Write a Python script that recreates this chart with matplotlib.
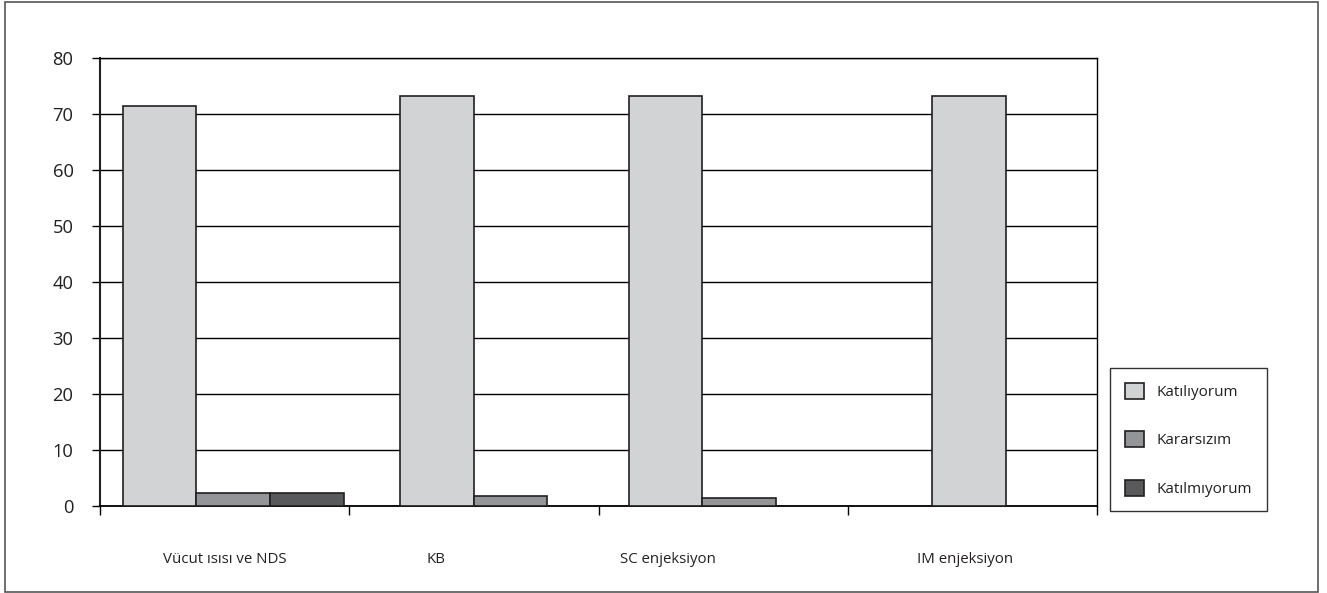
import matplotlib.pyplot as plt
from matplotlib.patches import Rectangle

plt.rcParams["font.family"] = ["Open Sans", "DejaVu Sans"]

categories = ["Vücut ısısı ve NDS", "KB", "SC enjeksiyon", "IM enjeksiyon"]
series_names = ["Katılıyorum", "Kararsızım", "Katılmıyorum"]
katiliyorum = [71.4, 73.3, 73.3, 73.3]
kararsizim = [2.4, 1.8, 1.5, 0]
katilmiyorum = [2.4, 0, 0, 0]

# layout: left edge of each group (in category units) and label centres
group_left = [0.092, 1.204, 2.122, 3.338]
label_x = [0.50, 1.35, 2.28, 3.47]
bar_w = 0.295
colors = ["#d1d3d4", "#939598", "#58595b"]
edge = "#231f20"

W, H = 1327, 593
fig = plt.figure(figsize=(W / 100, H / 100), dpi=100)
ax = fig.add_axes([100 / W, 1 - 506 / H, 997 / W, 448 / H])

handles = []
for i, (name, vals) in enumerate(zip(series_names, [katiliyorum, kararsizim, katilmiyorum])):
    for g, v in zip(group_left, vals):
        if v > 0:
            ax.bar(g + i * bar_w, v, width=bar_w, align="edge",
                   color=colors[i], edgecolor=edge, linewidth=1.2, zorder=3)
    handles.append(Rectangle((0, 0), 1, 1, facecolor=colors[i], edgecolor=edge, linewidth=1.2))

ax.set_xlim(0, 4)
ax.set_ylim(0, 80)
ax.set_yticks(range(0, 81, 10))
ax.yaxis.grid(True, color="black", linewidth=1.0, zorder=1)
ax.set_axisbelow(True)

ax.set_xticks([0, 1, 2, 3, 4])
ax.set_xticklabels([])
ax.set_xticks(label_x, minor=True)
ax.set_xticklabels(categories, minor=True, fontsize=10.8, color="#231f20")
ax.tick_params(axis="x", which="major", direction="out", length=6.5, width=1.0)
ax.tick_params(axis="x", which="minor", length=0, pad=33)
ax.tick_params(axis="y", direction="out", length=6, width=1.0, pad=13,
               labelsize=13.2, labelcolor="#231f20")

for side in ["top", "right"]:
    ax.spines[side].set_linewidth(1.0)
    ax.spines[side].set_color("black")
ax.spines["left"].set_linewidth(1.5)
ax.spines["left"].set_color("#231f20")
ax.spines["bottom"].set_linewidth(1.3)
ax.spines["bottom"].set_bounds(0, 4)

leg = fig.legend(handles, series_names, loc="upper left",
                 bbox_to_anchor=(1110 / W, 1 - 368 / H), borderaxespad=0,
                 fontsize=11, frameon=True, fancybox=False, edgecolor="black",
                 handlelength=1.25, handleheight=1.25, handletextpad=0.85,
                 labelspacing=2.05, borderpad=0.95)
leg.get_frame().set_linewidth(1.0)
for t in leg.get_texts():
    t.set_color("#231f20")

# outer frame around the whole figure
fig.patches.append(Rectangle((5 / W, 1 / H), 1313 / W, 590 / H, transform=fig.transFigure,
                             fill=False, edgecolor="#555555", linewidth=1.2))

fig.savefig("out.png", dpi=100)
